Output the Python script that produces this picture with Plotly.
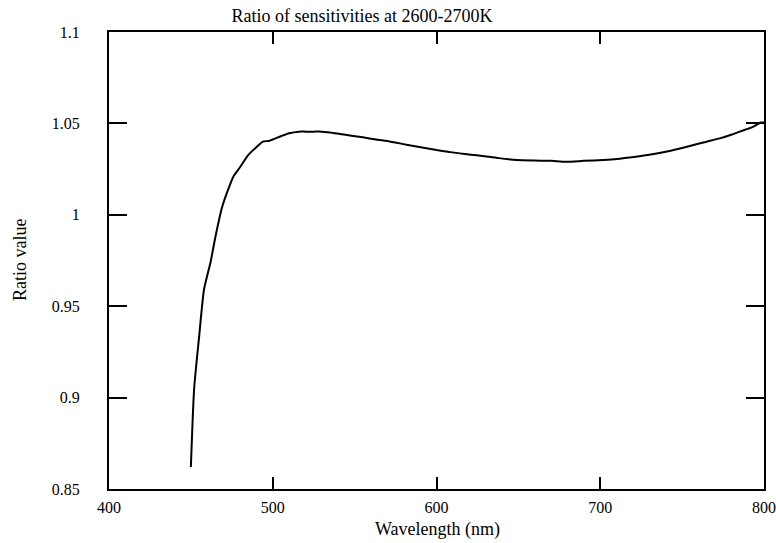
import plotly.graph_objects as go

wavelength_nm = [450, 452, 455, 458, 462, 465, 469, 472, 476, 480, 485, 490, 494, 498,
                 505, 510, 516, 520, 525, 530, 535, 541, 548, 555, 563, 572, 579, 586,
                 593, 600, 607, 614, 621, 628, 638, 649, 660, 670, 679, 690, 702, 712,
                 718, 730, 743, 750, 757, 765, 773, 780, 788, 793, 798, 800]
ratio_value = [0.862, 0.905, 0.933, 0.959, 0.974, 0.988, 1.004, 1.012, 1.021, 1.026,
               1.0327, 1.037, 1.040, 1.0405, 1.043, 1.0446, 1.0455, 1.0455, 1.0455,
               1.0455, 1.045, 1.0442, 1.0433, 1.0424, 1.0412, 1.040, 1.0388, 1.0376,
               1.0365, 1.0354, 1.0345, 1.0336, 1.0329, 1.0322, 1.031, 1.030, 1.0297,
               1.0295, 1.029, 1.0295, 1.030, 1.0307, 1.0313, 1.0328, 1.0350, 1.0365,
               1.0382, 1.040, 1.0418, 1.0438, 1.0464, 1.048, 1.0505, 1.0505]

x_ticks = [400, 500, 600, 700, 800]
y_ticks = [0.85, 0.9, 0.95, 1.0, 1.05, 1.1]
y_tick_labels = ["0.85", "0.9", "0.95", "1", "1.05", "1.1"]

title_text = "Ratio of sensitivities at 2600-2700K"
x_title = "Wavelength (nm)"
y_title = "Ratio value"

W, H = 776, 543
L, R, T, B = 109, 12, 32, 54
FONT = "Liberation Serif, Times New Roman, serif"

fig = go.Figure()
fig.add_trace(go.Scatter(x=wavelength_nm, y=ratio_value, mode="lines",
                         line=dict(color="black", width=2, shape="spline", smoothing=0.6),
                         showlegend=False))

pw, ph = W - L - R, H - T - B
fig.update_layout(
    width=W, height=H,
    margin=dict(l=L, r=R, t=T, b=B, autoexpand=False),
    paper_bgcolor="white", plot_bgcolor="white",
    font=dict(family=FONT, size=16, color="black"),
    title=dict(text=title_text, x=362 / W, xanchor="center", xref="container",
               y=1 - 16 / H, yanchor="middle", yref="container",
               font=dict(family=FONT, size=18, color="black")),
    annotations=[
        dict(text=x_title, x=(437 - L) / pw, y=(H - B - 529) / ph,
             xref="paper", yref="paper", showarrow=False,
             xanchor="center", yanchor="middle", font=dict(family=FONT, size=18)),
        dict(text=y_title, x=(20 - L) / pw, y=(H - B - 260) / ph,
             xref="paper", yref="paper", showarrow=False, textangle=-90,
             xanchor="center", yanchor="middle", font=dict(family=FONT, size=18)),
    ],
)

fig.update_xaxes(range=[400, 800], tickvals=x_ticks, ticks="inside", ticklen=12,
                 tickwidth=2, tickcolor="black", showline=True, linecolor="black",
                 linewidth=2, mirror="ticks", showgrid=False, zeroline=False,
                 ticklabelstandoff=3, ticklabeloverflow="allow", automargin=False)
fig.update_yaxes(range=[0.85, 1.1], tickvals=y_ticks, ticktext=y_tick_labels,
                 ticks="inside", ticklen=18, tickwidth=2, tickcolor="black",
                 showline=True, linecolor="black", linewidth=2, mirror="ticks",
                 showgrid=False, zeroline=False, ticklabelstandoff=24,
                 ticklabeloverflow="allow", automargin=False)

fig.write_html("out.html", config={"displayModeBar": False})

with open("out.html", "r", encoding="utf-8") as f:
    html = f.read()
html = html.replace("<head>", "<head><style>html,body{margin:0;padding:0;overflow:hidden;}</style>", 1)
with open("out.html", "w", encoding="utf-8") as f:
    f.write(html)
